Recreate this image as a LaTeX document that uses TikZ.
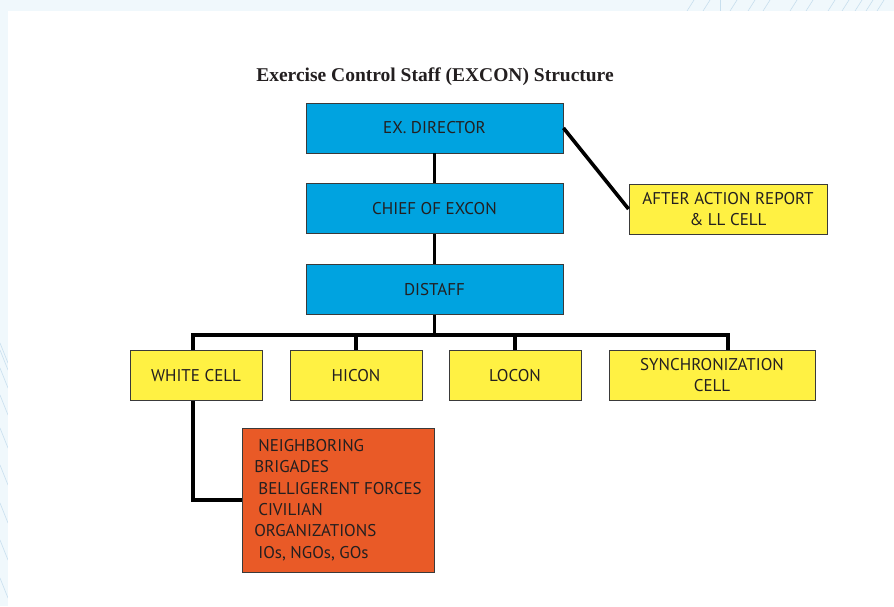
\documentclass[tikz,border=0pt]{standalone}
\usepackage{fontspec}
\setmainfont{PT Sans}
\newfontfamily\titlefont{Liberation Serif}
\definecolor{pagebg}{HTML}{F0F8FC}
\definecolor{decoline}{HTML}{C8DFEE}
\definecolor{boxblue}{HTML}{00A3E0}
\definecolor{boxyellow}{HTML}{FFF143}
\definecolor{boxorange}{HTML}{E95A27}
\definecolor{inktext}{HTML}{231F20}
\definecolor{edge}{HTML}{3A3A3A}
\tikzset{
  cellbox/.style={draw=edge, line width=0.9pt, rectangle, inner sep=0pt,
    align=center, text=inktext, font=\fontsize{17}{21}\selectfont},
  bluebox/.style={cellbox, fill=boxblue, minimum width=257pt, minimum height=50pt},
  yellowbox/.style={cellbox, fill=boxyellow, minimum height=50pt},
  orangebox/.style={cellbox, fill=boxorange, align=left,
    font=\fontsize{17}{21.4}\selectfont},
  conn/.style={draw=black, line width=3.6pt, line join=miter},
  deco/.style={draw=decoline, line width=0.6pt}
}
\begin{document}
\begin{tikzpicture}[x=1pt, y=-1pt]
  % page background and white sheet
  \fill[pagebg] (0,0) rectangle (894,606);
  \useasboundingbox (0,0) rectangle (894,606);
  \foreach \xa/\xb in {687/694, 703/710, 720/720, 730/737, 748/755, 763/770,
                       790/797, 806/813, 828/835, 842/849, 855/862, 866/873, 877/884}
    \draw[deco] (\xa,11) -- (\xb,0);
  \foreach \ya in {343, 350, 368, 395, 428, 465, 503, 540, 578}
    \draw[deco] (0,\ya) -- (8,\ya+20);
  \fill[white] (8,11) rectangle (894,606);

  % title
  \node[font=\titlefont\bfseries\fontsize{19.5}{22}\selectfont, text=inktext]
    (title) at (435,77) {Exercise Control Staff (EXCON) Structure};

  % command chain
  \node[bluebox] (dir)     at (434.5,128) {EX. DIRECTOR};
  \node[bluebox] (chief)   at (434.5,208.5) {CHIEF OF EXCON};
  \node[bluebox] (distaff) at (434.5,289.5) {DISTAFF};
  \node[yellowbox, minimum width=198pt] (aar) at (728,209)
    {AFTER ACTION REPORT\\\& LL CELL};

  % cells
  \node[yellowbox, minimum width=132pt] (white) at (196,375.5) {WHITE CELL};
  \node[yellowbox, minimum width=132pt] (hicon) at (356,375.5) {HICON};
  \node[yellowbox, minimum width=132pt] (locon) at (515,375.5) {LOCON};
  \node[yellowbox, minimum width=206pt] (sync)  at (712,375.5) {SYNCHRONIZATION\\CELL};

  % external players
  \node[orangebox, minimum width=192pt, minimum height=144pt] (ext) at (338,500)
    {\hspace*{4pt}NEIGHBORING\\
     BRIGADES\\
     \hspace*{4pt}BELLIGERENT FORCES\\
     \hspace*{4pt}CIVILIAN\\
     ORGANIZATIONS\\
     \hspace*{4pt}IOs, NGOs, GOs};

  % bus anchors
  \coordinate (busmid) at (434.5,335);
  \coordinate (wx) at (193,0);
  \coordinate (sx) at (728,0);

  % connectors
  \draw[conn] (dir) -- (chief);
  \draw[conn] (chief) -- (distaff);
  \draw[conn] (dir.east) -- (aar.west);
  \draw[conn] (distaff.south) -- (busmid);
  \draw[conn] (wx |- white.north) |- (busmid) -| (sx |- sync.north);
  \draw[conn] (hicon.north) -- (hicon.north |- busmid);
  \draw[conn] (locon.north) -- (locon.north |- busmid);
  \draw[conn] (wx |- white.south) |- (ext.west);
\end{tikzpicture}
\end{document}
